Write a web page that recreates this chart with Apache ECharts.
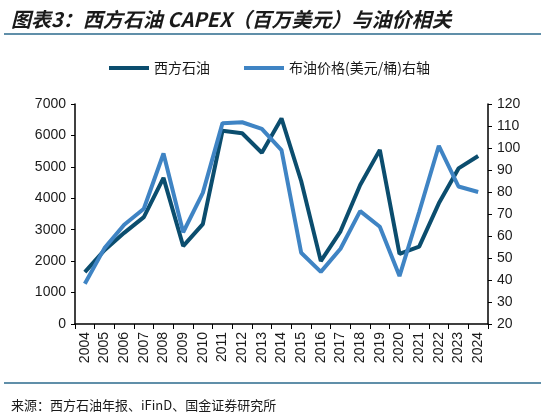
<!DOCTYPE html>
<html>
<head>
<meta charset="utf-8">
<script src="https://cdn.jsdelivr.net/npm/echarts@6/dist/echarts.min.js"></script>
<style>
html,body{margin:0;padding:0;background:#fff;}
#main{width:541px;height:416px;}
</style>
</head>
<body>
<div id="main"></div>
<script>
var years = ['2004','2005','2006','2007','2008','2009','2010','2011','2012','2013','2014',
	'2015','2016','2017','2018','2019','2020','2021','2022','2023','2024'];
// 西方石油 CAPEX（百万美元）
var capex = [1650, 2350, 2900, 3400, 4650, 2480, 3180, 6150, 6070, 5450, 6540,
	4550, 2000, 2950, 4420, 5540, 2230, 2460, 3840, 4950, 5345];
// 布油价格（美元/桶）
var brent = [38.3, 54.5, 65.1, 72.4, 97.5, 61.7, 79.6, 111.3, 111.7, 108.7, 99.0,
	52.4, 43.7, 54.2, 71.3, 64.2, 41.8, 70.9, 101.0, 82.5, 80.0];
var leftTicks = [0, 7000, 1000];
var rightTicks = [20, 120, 10];

var fontFam = 'Liberation Sans, Arial, Noto Sans CJK SC, sans-serif';
var cjkFam = 'Noto Sans CJK SC, sans-serif';

var chart = echarts.init(document.getElementById('main'));
var option = {
	animation: false,
	backgroundColor: '#fff',
	title: [
		{
			text: '图表3：西方石油 CAPEX（百万美元）与油价相关',
			left: 6, top: 4,
			textStyle: {fontFamily: cjkFam, fontSize: 20, fontWeight: 'bold', fontStyle: 'italic', color: '#1a1a1a'}
		},
		{
			text: '来源：西方石油年报、iFinD、国金证券研究所',
			left: 6, top: 394,
			textStyle: {fontFamily: cjkFam, fontSize: 13, fontWeight: 'normal', color: '#1a1a1a'}
		}
	],
	graphic: [
		{type: 'line', shape: {x1: 4, y1: 34, x2: 541, y2: 34}, style: {stroke: '#2b6a8c', lineWidth: 1.5}},
		{type: 'line', shape: {x1: 4, y1: 383, x2: 541, y2: 383}, style: {stroke: '#2b6a8c', lineWidth: 1.5}}
	],
	legend: {
		top: 56,
		left: 104,
		itemWidth: 40,
		itemHeight: 4,
		itemGap: 34,
		icon: 'rect',
		textStyle: {fontFamily: cjkFam, fontSize: 14, color: '#1a1a1a'},
		data: ['西方石油', '布油价格(美元/桶)右轴']
	},
	grid: {left: 75, right: 53, top: 104, bottom: 92},
	xAxis: {
		type: 'category',
		data: years,
		boundaryGap: true,
		axisLine: {lineStyle: {color: '#000', width: 1.5}},
		axisTick: {show: true, inside: false, length: 5, alignWithLabel: false, lineStyle: {color: '#000'}},
		axisLabel: {rotate: 90, fontFamily: fontFam, fontSize: 14, color: '#1a1a1a', margin: 8}
	},
	yAxis: [
		{
			type: 'value',
			min: leftTicks[0], max: leftTicks[1], interval: leftTicks[2],
			axisLine: {show: true, lineStyle: {color: '#000', width: 1.5}},
			axisTick: {show: true, length: 4, lineStyle: {color: '#000'}},
			splitLine: {show: false},
			axisLabel: {fontFamily: fontFam, fontSize: 14, color: '#1a1a1a', margin: 9,
				formatter: function (v) { return String(v); }}
		},
		{
			type: 'value',
			position: 'right',
			min: rightTicks[0], max: rightTicks[1], interval: rightTicks[2],
			axisLine: {show: true, lineStyle: {color: '#000', width: 1.5}},
			axisTick: {show: true, length: 4, lineStyle: {color: '#000'}},
			splitLine: {show: false},
			axisLabel: {fontFamily: fontFam, fontSize: 14, color: '#1a1a1a', margin: 9,
				formatter: function (v) { return String(v); }}
		}
	],
	series: [
		{
			name: '西方石油',
			type: 'line',
			yAxisIndex: 0,
			data: capex,
			symbol: 'none',
			color: '#0b4d6e',
			lineStyle: {width: 4, color: '#0b4d6e'},
			z: 2
		},
		{
			name: '布油价格(美元/桶)右轴',
			type: 'line',
			yAxisIndex: 1,
			data: brent,
			symbol: 'none',
			color: '#3f84c4',
			lineStyle: {width: 4, color: '#3f84c4'},
			z: 3
		}
	]
};
chart.setOption(option);
</script>
</body>
</html>
